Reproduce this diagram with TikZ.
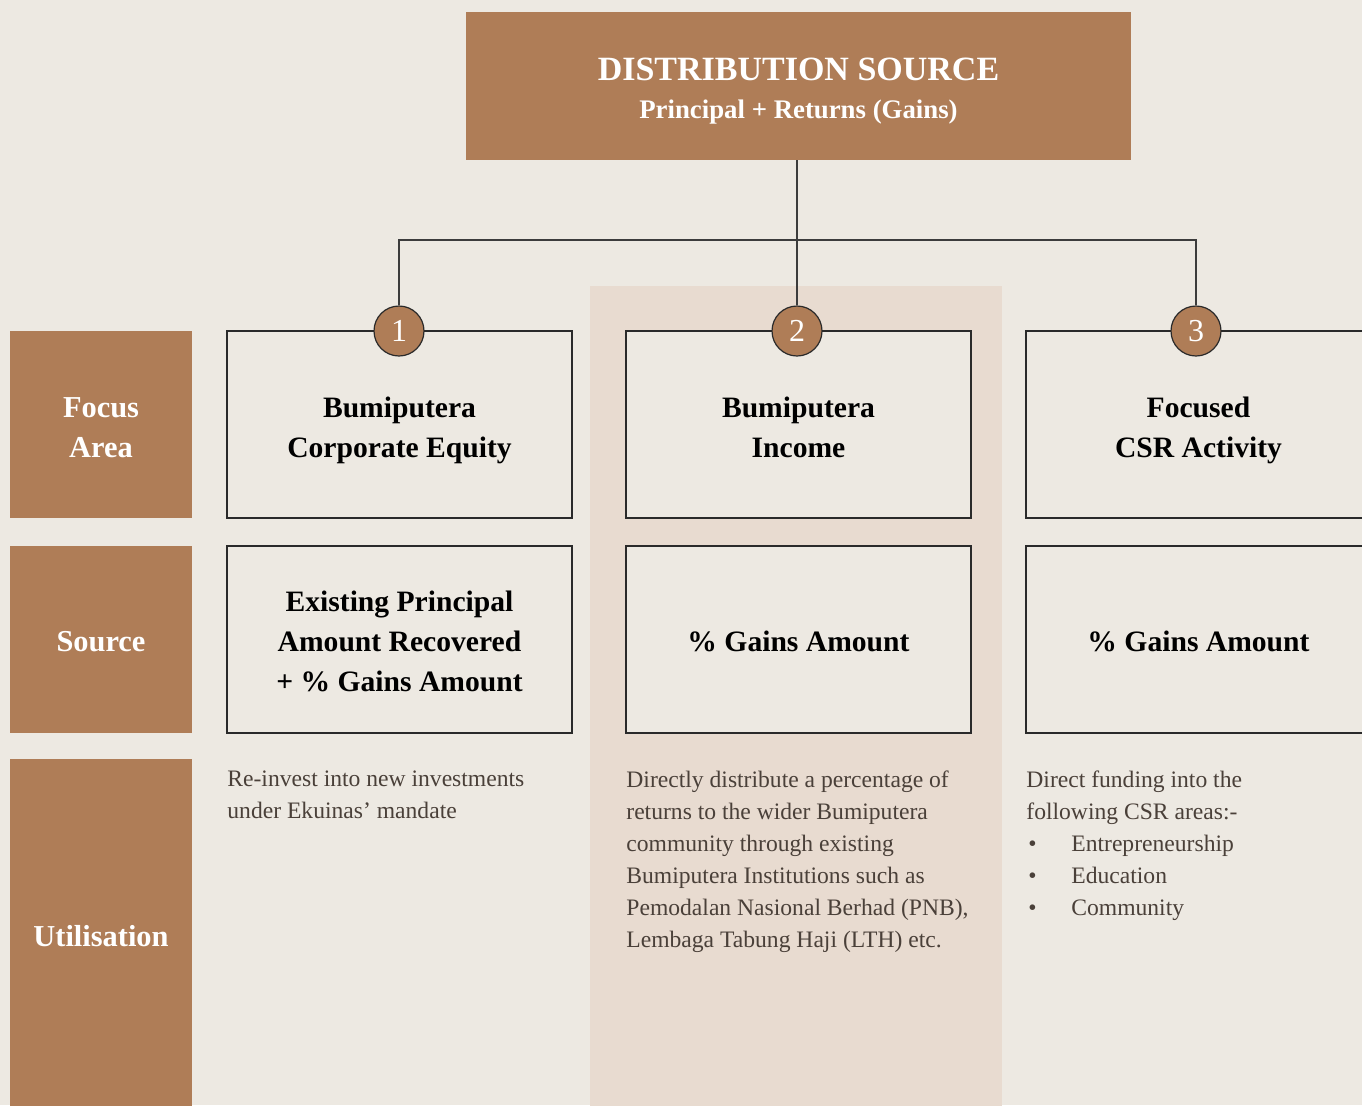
\documentclass[tikz,border=0pt]{standalone}
\usepackage{fontspec}
\setmainfont{Liberation Serif}
\definecolor{bg}{HTML}{EDE9E2}
\definecolor{brown}{HTML}{AF7D57}
\definecolor{hl}{HTML}{E8DBD0}
\definecolor{bodytext}{HTML}{4A4039}
\definecolor{linec}{HTML}{3C3C3C}
\definecolor{boxline}{HTML}{2A2A2A}
\begin{document}
\begin{tikzpicture}[x=0.5pt,y=-0.5pt,
  rowlabel/.style={fill=brown, inner sep=0, minimum width=91pt},
  labeltxt/.style={text=white, align=center, inner sep=0, font=\bfseries\fontsize{15.2}{20}\selectfont},
  boxnode/.style={draw=boxline, line width=0.7pt, fill=bg, minimum width=172.5pt, minimum height=93.5pt, inner sep=0},
  boxtxt/.style={text=black, align=center, inner sep=0, font=\bfseries\fontsize{14.8}{20}\selectfont},
  numcirc/.style={circle, fill=brown, draw=boxline, line width=0.6pt, minimum size=25pt, inner sep=0, text=white, font=\fontsize{16}{16}\selectfont},
  bodytxt/.style={anchor=north west, inner sep=0, align=left, text=bodytext, font=\fontsize{11.8}{16}\selectfont},
  conn/.style={draw=linec, line width=0.6pt}]
\useasboundingbox (0,0) rectangle (1362,1105);
\clip (0,0) rectangle (1362,1105);
\fill[bg] (0,0) rectangle (1362,1105);
% highlighted column
\fill[hl] (590,286) rectangle (1002,1110);
% top box
\node[fill=brown, minimum width=332.5pt, minimum height=74pt, inner sep=0] (top) at (798.5,86) {};
\node[anchor=base, inner sep=0, text=white, font=\bfseries\fontsize{17}{19}\selectfont] (ttl) at (798.5,80) {DISTRIBUTION SOURCE};
\node[anchor=base, inner sep=0, text=white, font=\bfseries\fontsize{13.4}{15}\selectfont] (sub) at (798.5,118) {Principal + Returns (Gains)};
% row labels
\node[rowlabel, minimum height=93.5pt] (lfocus) at (101,424.5) {};
\node[rowlabel, minimum height=93.5pt] (lsource) at (101,639.5) {};
\node[rowlabel, minimum height=175.5pt] (lutil) at (101,934.5) {};
\node[labeltxt] (tfocus) at (101,429) {\strut Focus\\\strut Area};
\node[labeltxt] (tsource) at (101,643) {\strut Source};
\node[labeltxt] (tutil) at (101,938) {\strut Utilisation};
% boxes
\node[boxnode] (f1) at (399.5,424.5) {};
\node[boxnode] (f2) at (798.5,424.5) {};
\node[boxnode] (f3) at (1198.5,424.5) {};
\node[boxnode] (s1) at (399.5,639.5) {};
\node[boxnode] (s2) at (798.5,639.5) {};
\node[boxnode] (s3) at (1198.5,639.5) {};
\node[boxtxt] (tf1) at (399.5,429) {\strut Bumiputera\\\strut Corporate Equity};
\node[boxtxt] (tf2) at (798.5,429) {\strut Bumiputera\\\strut Income};
\node[boxtxt] (tf3) at (1198.5,429) {\strut Focused\\\strut CSR Activity};
\node[boxtxt] (ts1) at (399.5,643) {\strut Existing Principal\\\strut Amount Recovered\\\strut + \% Gains Amount};
\node[boxtxt] (ts2) at (798.5,643) {\strut\% Gains Amount};
\node[boxtxt] (ts3) at (1198.5,643) {\strut\% Gains Amount};
% circles
\node[numcirc] (c1) at (399,331) {1};
\node[numcirc] (c2) at (797,331) {2};
\node[numcirc] (c3) at (1196,331) {3};
% connectors
\coordinate (j) at (797,240);
\draw[conn] (top.south -| c2) -- (c2.north);
\draw[conn] (j) -| (c1.north);
\draw[conn] (j) -| (c3.north);
% utilisation texts
\node[bodytxt] (u1) at (227,770) {Re-invest into new investments\\under Ekuinas’ mandate};
\node[bodytxt] (u2) at (626,770) {Directly distribute a percentage of\\returns to the wider Bumiputera\\community through existing\\Bumiputera Institutions such as\\Pemodalan Nasional Berhad (PNB),\\Lembaga Tabung Haji (LTH) etc.};
\node[bodytxt] (u3) at (1026,770) {Direct funding into the\\following CSR areas:-\\\makebox[22.5pt][l]{\hspace{1pt}\textbullet}Entrepreneurship\\\makebox[22.5pt][l]{\hspace{1pt}\textbullet}Education\\\makebox[22.5pt][l]{\hspace{1pt}\textbullet}Community};
\end{tikzpicture}
\end{document}
